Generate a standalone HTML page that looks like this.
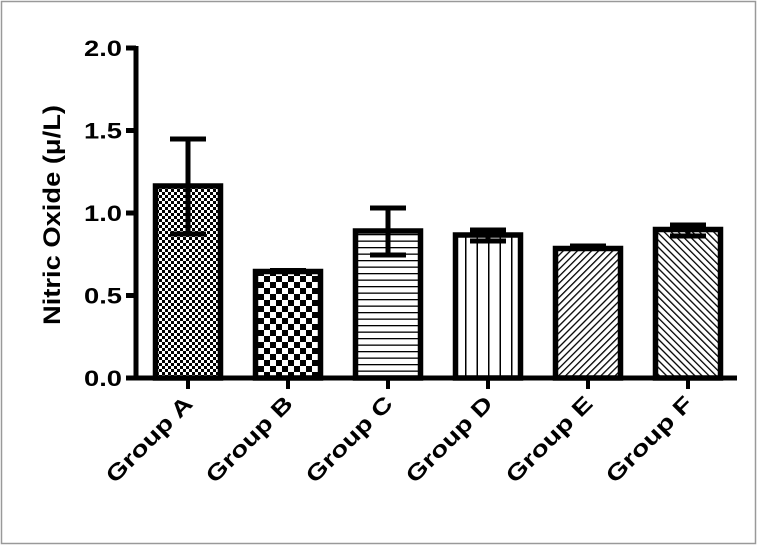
<!DOCTYPE html>
<html><head><meta charset="utf-8"><style>
html,body{margin:0;padding:0;background:#fff}
svg{display:block}
text{font-family:"Liberation Sans",Arial,sans-serif;font-weight:bold;fill:#000}
</style></head><body>
<svg width="761" height="546" viewBox="0 0 761 546" xmlns="http://www.w3.org/2000/svg">
<defs>
<pattern id="pa" width="6" height="6" patternUnits="userSpaceOnUse">
<rect width="6" height="6" fill="#fff"/><rect width="3" height="3" fill="#000"/><rect x="3" y="3" width="3" height="3" fill="#000"/></pattern>
<pattern id="pb" width="12" height="12" patternUnits="userSpaceOnUse">
<rect width="12" height="12" fill="#fff"/><rect width="6" height="6" fill="#000"/><rect x="6" y="6" width="6" height="6" fill="#000"/></pattern>
<pattern id="pc" width="6" height="6.5" patternUnits="userSpaceOnUse">
<rect width="6" height="6.5" fill="#fff"/><rect y="0" width="6" height="1.3" fill="#000"/></pattern>
<pattern id="pd" width="11.5" height="10" patternUnits="userSpaceOnUse">
<rect width="11.5" height="10" fill="#fff"/><rect x="5" width="1.5" height="10" fill="#000"/></pattern>
<pattern id="pe" width="5" height="5" patternUnits="userSpaceOnUse" patternTransform="rotate(45)">
<rect width="5" height="5" fill="#fff"/><rect width="1.3" height="5" fill="#000"/></pattern>
<pattern id="pf" width="5" height="5" patternUnits="userSpaceOnUse" patternTransform="rotate(-45)">
<rect width="5" height="5" fill="#fff"/><rect width="1.3" height="5" fill="#000"/></pattern>
</defs>
<rect x="1.5" y="1.5" width="754" height="542" fill="#fff" stroke="#999" stroke-width="1.5"/>
<g stroke="#000" stroke-width="5.5">
<rect x="155.5" y="186" width="65" height="192" fill="url(#pa)"/>
<rect x="255.5" y="271.5" width="65" height="106.5" fill="url(#pb)"/>
<rect x="355.5" y="231" width="65" height="147" fill="url(#pc)"/>
<rect x="455.5" y="235" width="65" height="143" fill="url(#pd)"/>
<rect x="555.5" y="248.5" width="65" height="129.5" fill="url(#pe)"/>
<rect x="655.5" y="229.5" width="65" height="148.5" fill="url(#pf)"/>
</g>
<g stroke="#000" stroke-width="5" fill="none">
<path d="M188 139V234M170 139H206M170 234H206"/>
<path d="M288 270.5V272.5M270 270.5H306"/>
<path d="M388 208V255M370 208H406M370 255H406"/>
<path d="M488 230V241M470 230H506M470 241H506"/>
<path d="M588 246V249M570 246H606"/>
<path d="M688 225V236M670 225H706M670 236H706"/>
<path d="M136 46V380M134 378H737"/>
<path d="M126 48H136M126 130.5H136M126 213H136M126 295.5H136M126 378H136"/>
<path d="M188 378V389M288 378V389M388 378V389M488 378V389M588 378V389M688 378V389" stroke-width="4"/>
</g>
<g font-size="22" text-anchor="end">
<text x="122" y="56" textLength="38" lengthAdjust="spacingAndGlyphs">2.0</text>
<text x="122" y="138.5" textLength="38" lengthAdjust="spacingAndGlyphs">1.5</text>
<text x="122" y="221" textLength="38" lengthAdjust="spacingAndGlyphs">1.0</text>
<text x="122" y="303.5" textLength="38" lengthAdjust="spacingAndGlyphs">0.5</text>
<text x="122" y="386" textLength="38" lengthAdjust="spacingAndGlyphs">0.0</text>
</g>
<text transform="translate(60,215) rotate(-90)" font-size="24" text-anchor="middle" textLength="220" lengthAdjust="spacingAndGlyphs">Nitric Oxide (μ/L)</text>
<g font-size="22" text-anchor="end">
<text transform="translate(194,405) rotate(-45)" textLength="112" lengthAdjust="spacingAndGlyphs">Group A</text>
<text transform="translate(294,405) rotate(-45)" textLength="112" lengthAdjust="spacingAndGlyphs">Group B</text>
<text transform="translate(394,405) rotate(-45)" textLength="112" lengthAdjust="spacingAndGlyphs">Group C</text>
<text transform="translate(494,405) rotate(-45)" textLength="112" lengthAdjust="spacingAndGlyphs">Group D</text>
<text transform="translate(594,405) rotate(-45)" textLength="112" lengthAdjust="spacingAndGlyphs">Group E</text>
<text transform="translate(694,405) rotate(-45)" textLength="112" lengthAdjust="spacingAndGlyphs">Group F</text>
</g>
</svg>
</body></html>
